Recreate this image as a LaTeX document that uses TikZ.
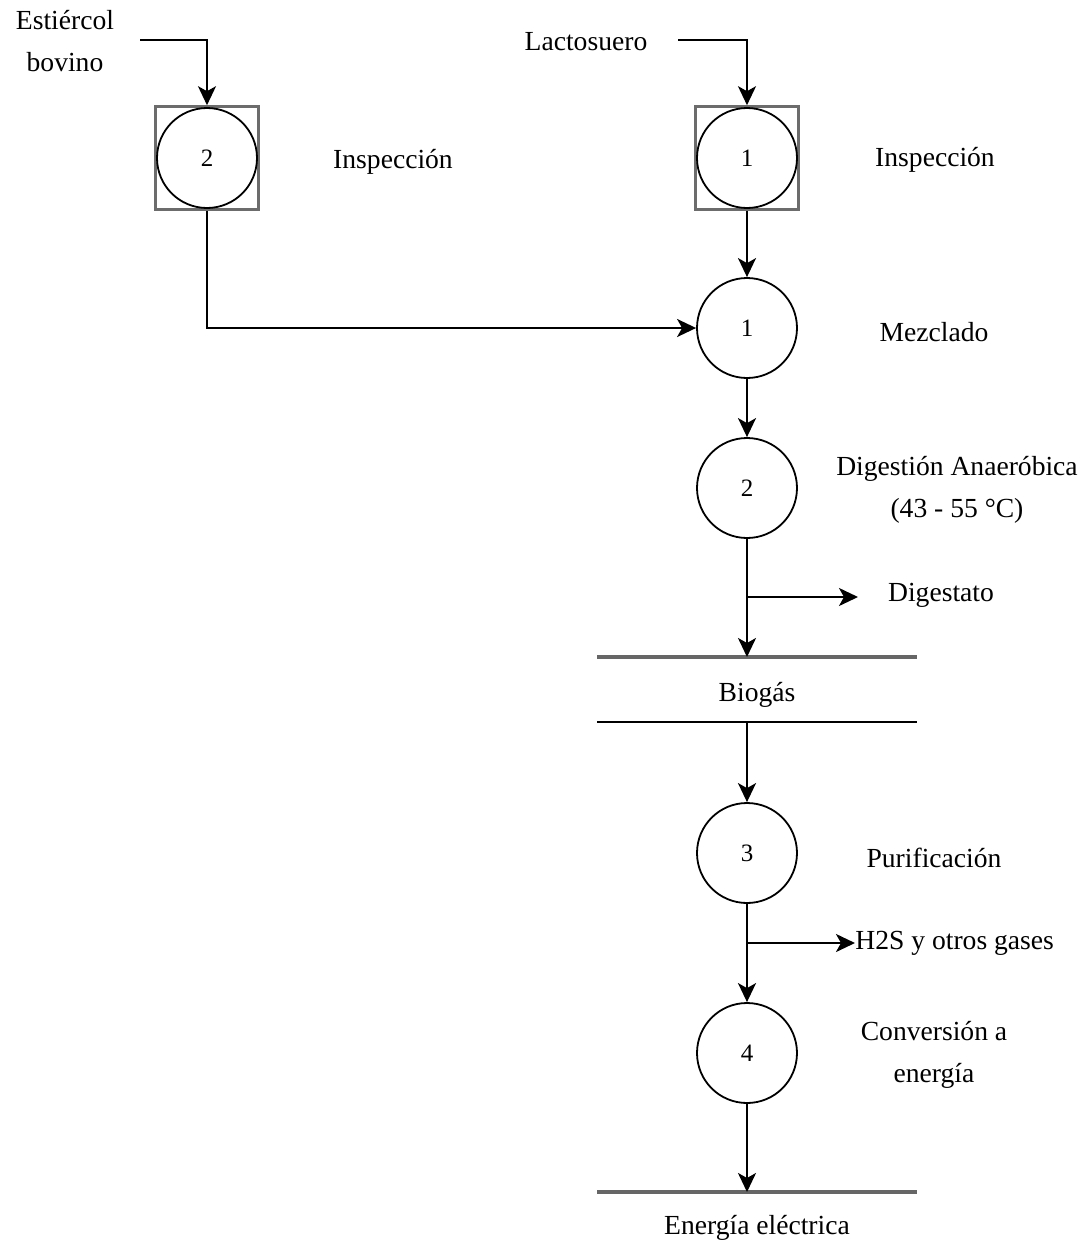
\documentclass[tikz,border=0pt]{standalone}
\usepackage{fontspec}
\setmainfont{Liberation Serif}
\usetikzlibrary{arrows.meta}

\begin{document}
\begin{tikzpicture}[x=0.5pt, y=-0.5pt,
		flow/.style = {-{Stealth[length=9.5pt, width=9pt, inset=2.5pt]}, line width=1.1pt},
		opcircle/.style = {circle, draw, line width=0.9pt, minimum size=50pt, inner sep=0pt,
			font=\fontsize{12.5}{14}\selectfont},
		inspbox/.style = {rectangle, draw=gray!85!black, line width=1.3pt, minimum size=51.5pt, inner sep=0pt},
		txt/.style = {font=\fontsize{13.8}{21}\selectfont, align=center},
		store/.style = {line width=1.8pt, gray!80!black}]
		\useasboundingbox (0,0) rectangle (1085,1255);
		
		% inspection boxes and operations
		\node [inspbox] (inspbox2) at (207,158) {};
		\node [opcircle] (insp2) at (207,158) {2};
		\node [inspbox] (inspbox1) at (747,158) {};
		\node [opcircle] (insp1) at (747,158) {1};
		\node [opcircle] (mezcla) at (747,328) {1};
		\node [opcircle] (digest) at (747,488) {2};
		\node [opcircle] (purif) at (747,853) {3};
		\node [opcircle] (conv) at (747,1053) {4};
		
		% labels
		\node [txt] (estiercol) at (65,41) {Estiércol\\bovino};
		\node [txt] (lacto) at (586,42) {Lactosuero};
		\node [txt] (lblinsp2) at (393,162) {Inspección};
		\node [txt] (lblinsp1) at (935,160) {Inspección};
		\node [txt] (lblmezcla) at (934,332) {Mezclado};
		\node [txt] (lbldigest) at (957,490) {Digestión Anaeróbica\\(43 - 55 °C)};
		\node [txt] (digestato) at (941,595) {Digestato};
		\node [txt] (biogas) at (757,695) {Biogás};
		\node [txt] (lblpurif) at (934,858) {Purificación};
		\node [txt, anchor=west, inner sep=0pt] (h2s) at (855,943) {H2S y otros gases};
		\node [txt] (lblconv) at (934,1055) {Conversión a\\energía};
		\node [txt] (energia) at (757,1228) {Energía eléctrica};
		
		% storage lines
		\coordinate (biotopL) at (597,657);
		\coordinate (biotopR) at (917,657);
		\coordinate (biobotL) at (597,722);
		\coordinate (biobotR) at (917,722);
		\coordinate (enerL) at (597,1192);
		\coordinate (enerR) at (917,1192);
		\draw [store] (biotopL) -- (biotopR);
		\draw [line width=1.1pt] (biobotL) -- (biobotR);
		\draw [store] (enerL) -- (enerR);
		
		% flows
		\coordinate (estin) at (140,40);
		\coordinate (lactin) at (678,40);
		\coordinate (digbr) at (748,597);
		\coordinate (digend) at (858,597);
		\coordinate (purbr) at (748,943);
		\begin{scope}[flow]
			\draw (estin) -| (inspbox2.north);
			\draw (lactin) -| (inspbox1.north);
			\draw (inspbox2.south) |- (mezcla.west);
			\draw (inspbox1.south) -- (mezcla.north);
			\draw (mezcla.south) -- (digest.north);
			\draw (digest.south) -- (digest.south |- biotopL);
			\draw (digbr) -- (digend);
			\draw (digest.south |- biobotL) -- (purif.north);
			\draw (purif.south) -- (conv.north);
			\draw (purbr) -- (h2s.west);
			\draw (conv.south) -- (conv.south |- enerL);
		\end{scope}
	\end{tikzpicture}
\end{document}
